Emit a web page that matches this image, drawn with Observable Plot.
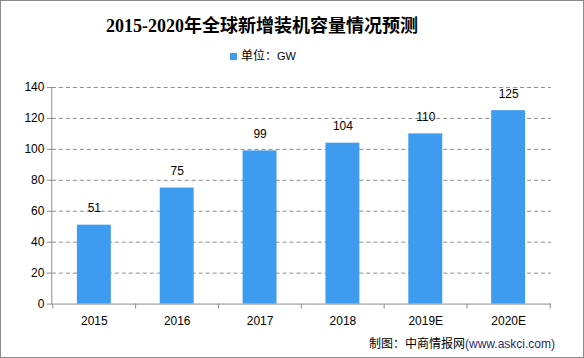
<!DOCTYPE html>
<html><head><meta charset="utf-8">
<script src="https://cdn.jsdelivr.net/npm/d3@7"></script>
<script src="https://cdn.jsdelivr.net/npm/@observablehq/plot@0.6"></script>
<style>
html,body{margin:0;padding:0;background:#fff;}
#wrap{position:relative;width:584px;height:358px;box-sizing:border-box;border:1px solid #8a8a8a;overflow:hidden;}
#title{position:absolute;left:0;top:10px;width:522px;text-align:center;font:bold 18px "Liberation Serif","Noto Sans CJK SC",serif;color:#000;white-space:nowrap;}
#legend{position:absolute;left:0;top:45px;width:524px;text-align:center;font:12px "Noto Sans CJK SC",sans-serif;color:#000;white-space:nowrap;}
#legend span.sw{display:inline-block;width:7px;height:7px;background:#3d9bf0;margin-right:4px;vertical-align:0px;}
#legend .u{font-family:"Liberation Sans",Arial,sans-serif;font-size:11px;}
#chart{position:absolute;left:-1px;top:69px;}
#caption{position:absolute;right:28px;top:333px;font:12px "Noto Sans CJK SC",sans-serif;color:#000;white-space:nowrap;}
#caption .url{font-family:"Liberation Sans",Arial,sans-serif;color:#1f2a6e;}
</style></head>
<body>
<div id="wrap">
<div id="title">2015-2020年全球新增装机容量情况预测</div>
<div id="legend"><span class="sw"></span>单位：<span class="u">GW</span></div>
<div id="chart"></div>
<div id="caption">制图：中商情报网<span class="url">(www.askci.com)</span></div>
</div>
<script>
const years = ["2015","2016","2017","2018","2019E","2020E"];
const values = [51, 75, 99, 104, 110, 125];
const yTicks = [0, 20, 40, 60, 80, 100, 120, 140];

const data = years.map((y, i) => ({year: y, value: values[i]}));
const W = 584, H = 265, ML = 52, MR = 32, MT = 17, MB = 31;
const step = (W - ML - MR) / years.length;
const barColor = "#3d9bf0";

const plot = Plot.plot({
  width: W, height: H,
  marginLeft: ML, marginRight: MR, marginTop: MT, marginBottom: MB,
  style: {fontFamily: "'Liberation Sans', Arial, sans-serif", fontSize: "12px", color: "#000", background: "transparent"},
  x: {domain: years, paddingInner: 0.59, paddingOuter: 0.295, label: null},
  y: {domain: [0, 140], ticks: yTicks, label: null},
  marks: [
    Plot.gridY(yTicks.filter(d => d > 0), {stroke: "#8c8c8c", strokeOpacity: 1, strokeDasharray: "4,3"}),
    Plot.barY(data, {x: "year", y: "value", fill: barColor}),
    Plot.text(data, {x: "year", y: "value", text: d => String(d.value), lineAnchor: "bottom", dy: -13, fontSize: 12, fill: "#000"}),
    Plot.ruleY([0], {stroke: "#8c8c8c"}),
    Plot.ruleX([years[0]], {dx: -step / 2 - 1, stroke: "#8c8c8c"}),
    Plot.ruleX(years, {x: d => d, y1: 0, y2: 0, dx: -step / 2, insetBottom: -5, stroke: "#8c8c8c"}),
    Plot.ruleX([years[years.length - 1]], {x: d => d, y1: 0, y2: 0, dx: step / 2, insetBottom: -5, stroke: "#8c8c8c"}),
    Plot.axisY({ticks: yTicks, tickSize: 5, tickPadding: 3, stroke: "#8c8c8c", fill: "#000", fontSize: 12}),
    Plot.axisX({tickSize: 0, tickPadding: 12, fill: "#000", fontSize: 12})
  ]
});
document.getElementById("chart").appendChild(plot);
</script>
</body></html>
